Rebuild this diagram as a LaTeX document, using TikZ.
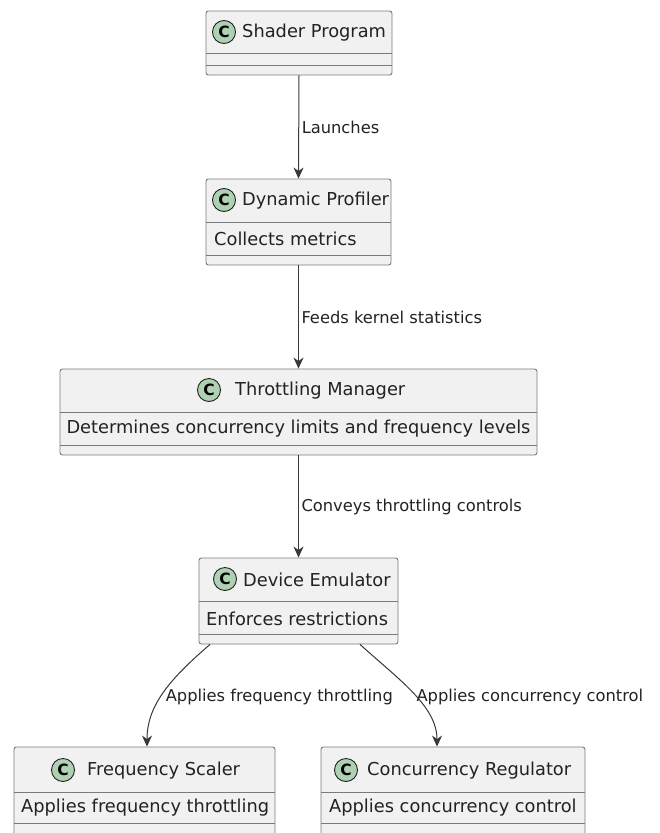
\documentclass[tikz,border=0pt]{standalone}
\usepackage{fontspec}
\setmainfont{DejaVu Sans}
\usetikzlibrary{arrows.meta}
\definecolor{boxfill}{HTML}{F1F1F1}
\definecolor{boxline}{HTML}{7A7A7A}
\definecolor{spotfill}{HTML}{ADD1B2}
\definecolor{inkdark}{HTML}{222222}
\definecolor{wire}{HTML}{383838}
\tikzset{
  classbox/.style={draw=boxline, fill=boxfill, line width=0.9pt, rounded corners=2.5pt},
  divider/.style={draw=boxline, line width=0.9pt},
  spot/.style={circle, draw=inkdark, fill=spotfill, line width=0.9pt, minimum size=23pt, inner sep=0pt,
    font=\fontsize{15.5}{15.5}\selectfont\bfseries, text=black},
  cname/.style={anchor=west, inner sep=0pt, font=\fontsize{17.8}{20}\selectfont, text=inkdark},
  attr/.style={anchor=west, inner sep=0pt, font=\fontsize{17.8}{20}\selectfont, text=inkdark},
  link/.style={draw=wire, line width=1pt, -{Stealth[length=11pt, width=10pt, inset=3.5pt]}},
  tag/.style={right, inner sep=2.5pt, font=\fontsize{16.3}{18}\selectfont, text=inkdark},
}
\begin{document}
\begin{tikzpicture}[x=1pt, y=-1pt]
\useasboundingbox (0,0) rectangle (660,833);

% Shader Program
\node[classbox, minimum width=186pt, minimum height=64pt, inner sep=0pt] (shader) at (299,43) {};
\draw[divider] (206,53) -- (392,53);
\draw[divider] (206,65) -- (392,65);
\node[spot] (shaderC) at (224,32) {C};
\node[cname] (shaderT) at (242,32.5) {Shader Program};

% Dynamic Profiler
\node[classbox, minimum width=185pt, minimum height=86pt, inner sep=0pt] (profiler) at (298.5,222) {};
\draw[divider] (206,222) -- (391,222);
\draw[divider] (206,255) -- (391,255);
\node[spot] (profilerC) at (224,200) {C};
\node[cname] (profilerT) at (242,200.5) {Dynamic Profiler};
\node[attr] (profilerA) at (214,238.5) {Collects metrics};

% Throttling Manager
\node[classbox, minimum width=477pt, minimum height=86pt, inner sep=0pt] (manager) at (298.5,412) {};
\draw[divider] (60,412) -- (537,412);
\draw[divider] (60,445) -- (537,445);
\node[spot] (managerC) at (209,390) {C};
\node[cname] (managerT) at (235,390.5) {Throttling Manager};
\node[attr, anchor=center] (managerA) at (298.5,428.5) {Determines concurrency limits and frequency levels};

% Device Emulator
\node[classbox, minimum width=199pt, minimum height=86pt, inner sep=0pt] (device) at (298.5,601) {};
\draw[divider] (199,601) -- (398,601);
\draw[divider] (199,634) -- (398,634);
\node[spot] (deviceC) at (225,579) {C};
\node[cname] (deviceT) at (243,579.5) {Device Emulator};
\node[attr] (deviceA) at (206,618.5) {Enforces restrictions};

% Frequency Scaler
\node[classbox, minimum width=261pt, minimum height=90pt, inner sep=0pt] (scaler) at (144.5,792) {};
\draw[divider] (14,792) -- (275,792);
\draw[divider] (14,823) -- (275,823);
\node[spot] (scalerC) at (63,770) {C};
\node[cname] (scalerT) at (87,770.5) {Frequency Scaler};
\node[attr] (scalerA) at (21,807.5) {Applies frequency throttling};

% Concurrency Regulator
\node[classbox, minimum width=264pt, minimum height=90pt, inner sep=0pt] (regulator) at (453,792) {};
\draw[divider] (321,792) -- (585,792);
\draw[divider] (321,823) -- (585,823);
\node[spot] (regulatorC) at (346,770) {C};
\node[cname] (regulatorT) at (367,770.5) {Concurrency Regulator};
\node[attr] (regulatorA) at (329,807.5) {Applies concurrency control};

% Connectors
\draw[link] (shader.south) -- node[tag] {Launches} (profiler.north);
\draw[link] (profiler.south) -- node[tag] {Feeds kernel statistics} (manager.north);
\draw[link] (manager.south) -- node[tag] {Conveys throttling controls} (device.north);
\draw[link] ([xshift=-88.5pt]device.south) .. controls +(-42,36) and +(0,-40) .. ([xshift=2.5pt]scaler.north)
  node[tag, pos=0.5, yshift=-3pt] {Applies frequency throttling};
\draw[link] ([xshift=61.5pt]device.south) .. controls +(40,36) and +(0,-40) .. ([xshift=-16pt]regulator.north)
  node[tag, pos=0.5, yshift=-3pt] {Applies concurrency control};
\end{tikzpicture}
\end{document}
